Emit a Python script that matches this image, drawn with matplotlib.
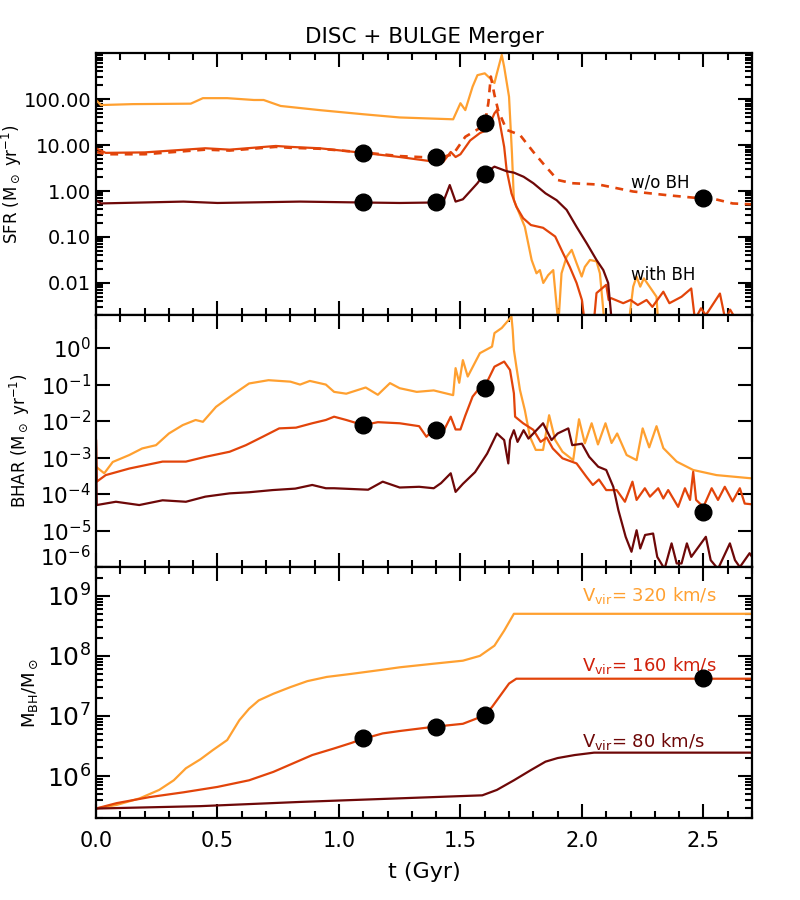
import matplotlib
matplotlib.use('Agg')
import matplotlib.pyplot as plt
import matplotlib.transforms as mtransforms
import numpy as np
from matplotlib.ticker import LogLocator, FixedLocator, MultipleLocator, NullLocator, NullFormatter

plt.rcParams['font.family'] = ['DejaVu Sans']

c_hi = '#ffa030'   # Vvir = 320 km/s
c_mid = '#e2440a'  # Vvir = 160 km/s
c_lo = '#6e0808'   # Vvir = 80 km/s
c_txt_mid = '#d0200a'

# ---- SFR (log10 Msun/yr) ----
sfr_hi_t = [0.0, 0.02, 0.15, 0.39, 0.44, 0.54, 0.65, 0.69, 0.76, 0.92, 1.10, 1.25, 1.47, 1.50, 1.52,
            1.55, 1.57, 1.60, 1.62, 1.64, 1.65, 1.67, 1.68, 1.70, 1.712, 1.72, 1.765, 1.793, 1.813, 1.827,
            1.841, 1.861, 1.882, 1.903, 1.916, 1.937, 1.958, 1.978, 1.999, 2.012, 2.033, 2.06, 2.074, 2.095,
            2.19, 2.211, 2.225, 2.24, 2.255, 2.307, 2.315, 2.70]
sfr_hi = [1.98, 1.87, 1.89, 1.90, 2.02, 2.02, 1.98, 1.98, 1.85, 1.76, 1.67, 1.60, 1.56, 1.91, 1.76,
          2.27, 2.52, 2.56, 2.46, 2.35, 2.56, 2.96, 2.70, 2.05, 0.82, -0.20, -0.78, -1.50, -1.79, -1.72,
          -2.00, -1.83, -1.72, -2.90, -1.79, -1.43, -1.28, -1.57, -1.86, -1.65, -1.50, -1.53, -1.79, -3.0,
          -3.0, -2.08, -1.86, -2.08, -1.90, -2.30, -3.0, -3.0]

sfr_mid_t = [0.0, 0.04, 0.20, 0.45, 0.55, 0.74, 0.80, 0.92, 1.10, 1.25, 1.39, 1.43, 1.46, 1.48, 1.50,
             1.54, 1.58, 1.61, 1.64, 1.65, 1.66, 1.68, 1.69, 1.71, 1.73, 1.758, 1.79, 1.84, 1.89, 1.923,
             1.95, 1.978, 2.00, 2.01, 2.05, 2.06, 2.10, 2.11, 2.12, 2.17, 2.20, 2.23, 2.266, 2.29, 2.335,
             2.36, 2.41, 2.45, 2.465, 2.49, 2.51, 2.568, 2.59, 2.61, 2.64, 2.70]
sfr_mid = [0.93, 0.83, 0.84, 0.93, 0.90, 0.98, 0.96, 0.93, 0.83, 0.74, 0.64, 0.64, 0.85, 0.74, 0.80,
           1.10, 1.26, 1.33, 1.69, 1.76, 1.54, 0.96, 0.46, -0.05, -0.34, -0.59, -0.74, -0.80, -0.99, -1.36,
           -1.65, -2.00, -2.37, -2.80, -2.80, -2.22, -2.04, -2.37, -2.33, -2.44, -2.37, -2.48, -2.37, -2.52, -2.19,
           -2.44, -2.30, -2.12, -2.80, -2.55, -2.70, -2.23, -2.80, -2.58, -2.85, -2.80]

sfr_nobh_t = [0.0, 0.04, 0.20, 0.45, 0.55, 0.74, 0.80, 0.92, 1.10, 1.25, 1.41, 1.47, 1.52, 1.58, 1.60,
              1.615, 1.625, 1.64, 1.655, 1.69, 1.745, 1.80, 1.84, 1.90, 1.96, 2.07, 2.21, 2.35, 2.49,
              2.55, 2.62, 2.70]
sfr_nobh = [0.85, 0.80, 0.80, 0.90, 0.88, 0.96, 0.94, 0.92, 0.84, 0.76, 0.72, 0.80, 1.18, 1.37, 1.45,
            1.92, 2.49, 2.09, 1.76, 1.33, 1.22, 0.85, 0.60, 0.24, 0.17, 0.14, -0.01, -0.09, -0.16,
            -0.18, -0.27, -0.29]

sfr_lo_t = [0.0, 0.02, 0.36, 0.50, 0.84, 1.10, 1.25, 1.39, 1.43, 1.456, 1.48, 1.51, 1.57, 1.60, 1.64,
            1.69, 1.72, 1.76, 1.80, 1.85, 1.896, 1.937, 1.978, 2.02, 2.06, 2.088, 2.108, 2.122, 2.70]
sfr_lo = [-0.20, -0.27, -0.23, -0.26, -0.23, -0.25, -0.26, -0.25, -0.23, 0.13, -0.23, -0.18, 0.17, 0.39, 0.53,
          0.43, 0.40, 0.31, 0.17, -0.05, -0.20, -0.41, -0.78, -1.14, -1.50, -1.72, -2.00, -2.80, -3.5]

# ---- BHAR (log10 Msun/yr) ----
bhar_hi_t = [0.0, 0.034, 0.069, 0.137, 0.19, 0.247, 0.30, 0.357, 0.41, 0.44, 0.494, 0.56, 0.63, 0.71, 0.80,
             0.84, 0.88, 0.946, 0.98, 1.03, 1.11, 1.16, 1.21, 1.25, 1.32, 1.39, 1.47, 1.48, 1.495, 1.51,
             1.53, 1.58, 1.63, 1.64, 1.67, 1.71, 1.715, 1.72, 1.73, 1.745, 1.765, 1.786, 1.81, 1.84, 1.865,
             1.89, 1.92, 1.964, 1.988, 2.012, 2.04, 2.066, 2.097, 2.122, 2.145, 2.184, 2.225, 2.25, 2.277,
             2.307, 2.335, 2.39, 2.458, 2.554, 2.70]
bhar_hi = [-3.25, -3.43, -3.12, -2.93, -2.75, -2.66, -2.34, -2.11, -1.97, -2.02, -1.61, -1.29, -0.97, -0.88, -0.92,
           -1.00, -0.90, -1.00, -1.20, -1.25, -1.08, -1.28, -0.96, -1.10, -1.20, -1.16, -1.29, -0.55, -0.95, -0.33,
           -0.78, -0.14, 0.04, 0.41, 0.55, 0.86, 0.50, -0.05, -0.50, -1.15, -1.70, -2.43, -2.79, -2.79, -1.84,
           -2.52, -2.84, -3.07, -1.95, -2.61, -2.06, -2.64, -2.06, -2.60, -2.34, -2.93, -3.07, -2.20, -2.72,
           -2.14, -2.74, -3.11, -3.34, -3.48, -3.57]

bhar_mid_t = [0.0, 0.003, 0.04, 0.137, 0.274, 0.37, 0.45, 0.55, 0.617, 0.686, 0.754, 0.823, 0.89, 0.946, 0.98,
              1.03, 1.10, 1.16, 1.25, 1.33, 1.36, 1.39, 1.43, 1.46, 1.48, 1.50, 1.52, 1.55, 1.59, 1.61,
              1.64, 1.68, 1.704, 1.72, 1.725, 1.758, 1.80, 1.83, 1.855, 1.88, 1.92, 1.978, 2.019, 2.045, 2.07,
              2.10, 2.143, 2.177, 2.208, 2.225, 2.259, 2.28, 2.314, 2.335, 2.355, 2.396, 2.424, 2.445, 2.458,
              2.47, 2.50, 2.534, 2.56, 2.588, 2.62, 2.65, 2.67, 2.70]
bhar_mid = [-2.52, -3.66, -3.48, -3.30, -3.11, -3.11, -2.98, -2.84, -2.66, -2.43, -2.20, -2.18, -2.06, -1.97, -1.88,
            -1.97, -2.11, -2.03, -2.06, -2.14, -2.43, -2.22, -2.28, -1.88, -2.23, -2.23, -1.85, -1.33, -1.00, -0.92,
            -0.51, -0.37, -0.60, -1.24, -1.88, -2.06, -2.24, -2.57, -2.45, -2.75, -3.02, -3.16, -3.53, -3.75, -3.60,
            -3.89, -3.89, -4.21, -3.66, -4.16, -3.84, -4.07, -3.84, -4.12, -3.89, -4.35, -3.84, -4.16, -3.39,
            -4.16, -4.35, -3.84, -4.16, -3.80, -4.20, -3.84, -4.26, -4.28]

bhar_lo_t = [0.0, 0.003, 0.082, 0.178, 0.274, 0.37, 0.45, 0.55, 0.63, 0.727, 0.82, 0.89, 0.946, 0.98, 1.12,
             1.18, 1.25, 1.33, 1.39, 1.42, 1.46, 1.48, 1.51, 1.56, 1.61, 1.65, 1.68, 1.697, 1.704, 1.72,
             1.735, 1.76, 1.78, 1.84, 1.875, 1.90, 1.944, 1.96, 2.00, 2.03, 2.067, 2.10, 2.129, 2.15, 2.18,
             2.204, 2.225, 2.24, 2.26, 2.293, 2.31, 2.34, 2.369, 2.39, 2.41, 2.432, 2.45, 2.51, 2.53, 2.56,
             2.609, 2.63, 2.65, 2.69, 2.70]
bhar_lo = [-2.55, -4.30, -4.21, -4.30, -4.17, -4.21, -4.07, -3.98, -3.95, -3.89, -3.85, -3.75, -3.84, -3.84, -3.88,
           -3.66, -3.82, -3.80, -3.84, -3.70, -3.43, -3.94, -3.72, -3.40, -2.89, -2.34, -2.52, -3.16, -2.52, -2.25,
           -2.57, -2.25, -2.48, -2.06, -2.52, -2.34, -2.20, -2.66, -2.62, -2.98, -3.25, -3.34, -3.80, -4.44, -5.17,
           -5.58, -4.99, -5.49, -5.12, -5.08, -5.72, -6.05, -5.35, -5.90, -5.90, -5.35, -5.72, -5.17, -5.81, -6.05,
           -5.35, -5.81, -6.00, -5.62, -5.72]

# ---- BH mass (log10 Msun) ----
mbh_hi_t = [0.0, 0.085, 0.18, 0.26, 0.32, 0.37, 0.43, 0.48, 0.54, 0.59, 0.63, 0.67, 0.73, 0.80, 0.87,
            0.95, 1.05, 1.18, 1.25, 1.39, 1.51, 1.58, 1.64, 1.68, 1.72, 2.70]
mbh_hi = [5.46, 5.52, 5.63, 5.77, 5.93, 6.13, 6.28, 6.43, 6.60, 6.93, 7.12, 7.26, 7.37, 7.48, 7.58,
          7.65, 7.70, 7.77, 7.81, 7.87, 7.92, 8.00, 8.17, 8.42, 8.70, 8.70]

mbh_mid_t = [0.0, 0.085, 0.22, 0.36, 0.50, 0.63, 0.73, 0.81, 0.89, 0.98, 1.05, 1.10, 1.18, 1.25, 1.39,
             1.51, 1.60, 1.63, 1.70, 1.73, 2.70]
mbh_mid = [5.46, 5.55, 5.65, 5.73, 5.82, 5.93, 6.07, 6.21, 6.35, 6.46, 6.55, 6.62, 6.71, 6.75, 6.82,
           6.87, 7.01, 7.15, 7.54, 7.62, 7.62]

mbh_lo_t = [0.0, 0.43, 0.84, 1.25, 1.59, 1.65, 1.72, 1.79, 1.85, 1.90, 1.97, 2.05, 2.70]
mbh_lo = [5.46, 5.50, 5.57, 5.63, 5.68, 5.77, 5.93, 6.10, 6.24, 6.30, 6.35, 6.39, 6.39]

# snapshot markers
dot_sfr_t = [1.1, 1.4, 1.6, 1.1, 1.4, 1.6, 2.5]
dot_sfr = [6.7, 5.5, 30.0, 0.58, 0.58, 2.3, 0.7]
dot_bhar_t = [1.1, 1.4, 1.6, 2.5]
dot_bhar = [7.8e-3, 5.6e-3, 0.08, 3.2e-5]
dot_mbh_t = [1.1, 1.4, 1.6, 2.5]
dot_mbh = [4.3e6, 6.5e6, 1.03e7, 4.3e7]

fig = plt.figure(figsize=(8, 9), dpi=100)
gs = fig.add_gridspec(3, 1, left=0.12, right=0.94, top=0.941, bottom=0.091,
                      hspace=0, height_ratios=[262, 252, 251])
ax1 = fig.add_subplot(gs[0])
ax2 = fig.add_subplot(gs[1], sharex=ax1)
ax3 = fig.add_subplot(gs[2], sharex=ax1)

lw = 1.6
ax1.plot(sfr_hi_t, 10**np.array(sfr_hi), color=c_hi, lw=lw)
ax1.plot(sfr_mid_t, 10**np.array(sfr_mid), color=c_mid, lw=lw)
ax1.plot(sfr_nobh_t, 10**np.array(sfr_nobh), color=c_mid, lw=lw + 0.3, ls=(0, (3, 2.5)))
ax1.plot(sfr_lo_t, 10**np.array(sfr_lo), color=c_lo, lw=lw)
ax1.plot(dot_sfr_t, dot_sfr, 'o', color='black', ms=12, zorder=5)

ax2.plot(bhar_hi_t, 10**np.array(bhar_hi), color=c_hi, lw=lw)
ax2.plot(bhar_mid_t, 10**np.array(bhar_mid), color=c_mid, lw=lw)
ax2.plot(bhar_lo_t, 10**np.array(bhar_lo), color=c_lo, lw=lw)
ax2.plot(dot_bhar_t, dot_bhar, 'o', color='black', ms=12, zorder=5)

ax3.plot(mbh_hi_t, 10**np.array(mbh_hi), color=c_hi, lw=lw)
ax3.plot(mbh_mid_t, 10**np.array(mbh_mid), color=c_mid, lw=lw)
ax3.plot(mbh_lo_t, 10**np.array(mbh_lo), color=c_lo, lw=lw)
ax3.plot(dot_mbh_t, dot_mbh, 'o', color='black', ms=12, zorder=5)

for ax in (ax1, ax2, ax3):
    ax.set_yscale('log')
    ax.set_xlim(0, 2.7)
    ax.xaxis.set_major_locator(MultipleLocator(0.5))
    ax.xaxis.set_minor_locator(MultipleLocator(0.1))
    ax.tick_params(which='both', direction='in', top=True, right=True, width=1.5)
    ax.tick_params(which='major', length=10, labelsize=13)
    ax.tick_params(which='minor', length=5)
    for s in ax.spines.values():
        s.set_linewidth(1.6)

ax1.set_ylim(0.002, 1000)
ax1.yaxis.set_major_locator(FixedLocator([0.01, 0.1, 1, 10, 100]))
ax1.set_yticklabels(['0.01', '0.10', '1.00', '10.00', '100.00'])
ax1.yaxis.set_minor_locator(LogLocator(base=10, subs=np.arange(2, 10)))
ax1.yaxis.set_minor_formatter(NullFormatter())
ax1.tick_params(axis='y', labelsize=14)
ax1.set_ylabel(r'SFR (M$_\odot$ yr$^{-1}$)', fontsize=12)
ax1.tick_params(labelbottom=False)
ax1.text(2.2, 1.5, 'w/o BH', fontsize=12, ha='left', va='center')
ax1.text(2.2, 0.015, 'with BH', fontsize=12, ha='left', va='center')
ax1.set_title('DISC + BULGE Merger', fontsize=15.5, pad=7)

ax2.set_ylim(1e-6, 8)
ax2.yaxis.set_major_locator(FixedLocator([1e-6, 1e-5, 1e-4, 1e-3, 1e-2, 1e-1, 1]))
ax2.set_yticklabels([r'10$^{-6}$', r'10$^{-5}$', r'10$^{-4}$', r'10$^{-3}$',
                     r'10$^{-2}$', r'10$^{-1}$', r'10$^{0}$'])
ax2.yaxis.set_minor_locator(NullLocator())
ax2.tick_params(axis='y', labelsize=15.5)
ax2.set_ylabel(r'BHAR (M$_\odot$ yr$^{-1}$)', fontsize=12)
ax2.tick_params(labelbottom=False)

ax3.set_ylim(2e5, 3e9)
ax3.yaxis.set_major_locator(FixedLocator([1e6, 1e7, 1e8, 1e9]))
ax3.set_yticklabels([r'10$^{6}$', r'10$^{7}$', r'10$^{8}$', r'10$^{9}$'])
ax3.yaxis.set_minor_locator(LogLocator(base=10, subs=np.arange(2, 10)))
ax3.yaxis.set_minor_formatter(NullFormatter())
ax3.tick_params(axis='y', labelsize=18)
ax3.set_ylabel(r'M$_{\rm BH}$/M$_\odot$', fontsize=13)
ax3.set_xlabel('t (Gyr)', fontsize=16, labelpad=8)
ax3.tick_params(axis='x', labelsize=15, pad=9)
ax3.text(2.0, 1.0e9, r'V$_{\rm vir}$= 320 km/s', color=c_hi, fontsize=13, va='center')
ax3.text(2.0, 6.8e7, r'V$_{\rm vir}$= 160 km/s', color=c_txt_mid, fontsize=13, va='center')
ax3.text(2.0, 3.8e6, r'V$_{\rm vir}$= 80 km/s', color=c_lo, fontsize=13, va='center')

ax1.yaxis.set_label_coords(-0.11, 0.5)
ax2.yaxis.set_label_coords(-0.098, 0.5)
ax3.yaxis.set_label_coords(-0.086, 0.5)

# lift the lowest BHAR label off the panel edge, as in the original
lift = mtransforms.ScaledTranslation(0, 8 / 72, fig.dpi_scale_trans)
low_lab = ax2.yaxis.get_major_ticks()[0].label1
low_lab.set_transform(low_lab.get_transform() + lift)

fig.savefig('out.png', dpi=100)
